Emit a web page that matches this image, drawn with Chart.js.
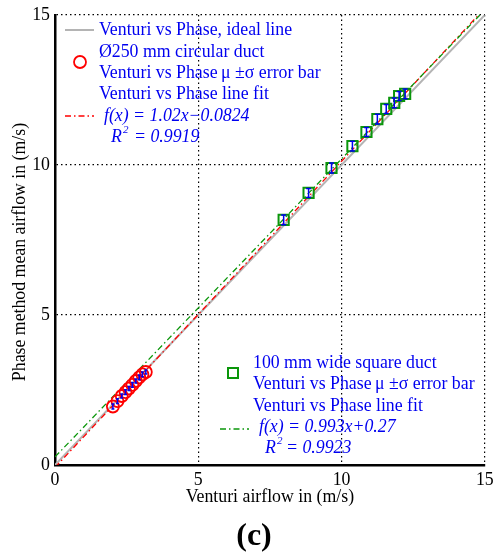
<!DOCTYPE html>
<html>
<head>
<meta charset="utf-8">
<script src="https://cdn.jsdelivr.net/npm/chart.js@4.4.1/dist/chart.umd.min.js"></script>
<style>
  body { margin: 0; background: #fff; }
  #wrap { width: 494px; height: 556px; }
</style>
</head>
<body>
<div id="wrap"><canvas id="container"></canvas></div>
<script>
// Ø250 mm circular duct (venturi vs phase mean, with sigma)
const circleX = [2.02, 2.18, 2.33, 2.46, 2.58, 2.7, 2.82, 2.94, 3.05, 3.17];
const circleY = [1.95, 2.13, 2.3, 2.43, 2.55, 2.67, 2.8, 2.92, 3.02, 3.1];
const circleSigma = [0.08, 0.08, 0.07, 0.08, 0.07, 0.08, 0.07, 0.08, 0.08, 0.07];

// 100 mm wide square duct
const squareX = [7.98, 8.85, 9.65, 10.38, 10.87, 11.25, 11.56, 11.84, 12.01, 12.22];
const squareY = [8.17, 9.07, 9.9, 10.63, 11.1, 11.53, 11.87, 12.07, 12.3, 12.37];
const squareSigma = [0.16, 0.15, 0.17, 0.16, 0.15, 0.16, 0.15, 0.16, 0.15, 0.16];

// lines (end points)
const idealX = [0, 15];
const idealY = [0, 15];
const redFitX = [0, 14.78];
const redFitY = [-0.08, 15];
const greenFitX = [0, 14.83];
const greenFitY = [0.27, 15];

const tickValues = [0, 5, 10, 15];

const serif = "'Liberation Serif', 'Times New Roman', serif";
const fs = 17.8;
const blue = '#0000f0';
const red = '#ff0000';
const green = '#0a960a';

function pts(xs, ys) {
    return xs.map((x, i) => ({ x: x, y: ys[i] }));
}

// error bars + legend text + caption
const extras = {
    id: 'extras',
    afterDatasetsDraw(chart) {
        const { ctx, scales: { x, y } } = chart;
        ctx.save();
        ctx.strokeStyle = blue;
        ctx.lineWidth = 1.5;
        const bars = (xs, ys, sig, cap) => {
            xs.forEach((v, i) => {
                const px = x.getPixelForValue(v);
                const top = y.getPixelForValue(ys[i] + sig[i]);
                const bot = y.getPixelForValue(ys[i] - sig[i]);
                ctx.beginPath();
                ctx.moveTo(px, top); ctx.lineTo(px, bot);
                ctx.moveTo(px - cap, top); ctx.lineTo(px + cap, top);
                ctx.moveTo(px - cap, bot); ctx.lineTo(px + cap, bot);
                ctx.stroke();
            });
        };
        bars(circleX, circleY, circleSigma, 1.5);
        bars(squareX, squareY, squareSigma, 2.5);
        ctx.restore();
    },
    afterDraw(chart) {
        const ctx = chart.ctx;
        ctx.save();
        ctx.textBaseline = 'middle';
        ctx.textAlign = 'left';
        ctx.fillStyle = blue;
        const norm = fs + 'px ' + serif;
        const ital = 'italic ' + fs + 'px ' + serif;
        const sup = 'italic 11px ' + serif;

        // legend 1
        ctx.font = norm;
        ctx.fillText('Venturi vs Phase, ideal line', 99, 30);
        ctx.fillText('Ø250 mm circular duct', 99, 52);
        ctx.fillText('Venturi vs Phase\u2009μ ±σ error bar', 99, 73);
        ctx.fillText('Venturi vs Phase line fit', 99, 94);
        ctx.font = ital;
        ctx.fillText('f(x) = 1.02x\u22120.0824', 104, 116);
        ctx.fillText('R', 111, 137);
        ctx.fillText('= 0.9919', 134, 137);
        ctx.font = sup;
        ctx.fillText('2', 123, 130);

        ctx.strokeStyle = '#b4b4b4';
        ctx.lineWidth = 2;
        ctx.beginPath(); ctx.moveTo(65, 30); ctx.lineTo(94, 30); ctx.stroke();
        ctx.strokeStyle = red;
        ctx.lineWidth = 1.8;
        ctx.beginPath(); ctx.arc(80, 62, 6, 0, Math.PI * 2); ctx.stroke();
        ctx.lineWidth = 1.3;
        ctx.setLineDash([6, 3, 1.5, 3]);
        ctx.beginPath(); ctx.moveTo(65, 116); ctx.lineTo(94, 116); ctx.stroke();

        // legend 2
        ctx.setLineDash([]);
        ctx.font = norm;
        ctx.fillText('100 mm wide square duct', 253, 363);
        ctx.fillText('Venturi vs Phase\u2009μ ±σ error bar', 253, 384);
        ctx.fillText('Venturi vs Phase line fit', 253, 406);
        ctx.font = ital;
        ctx.fillText('f(x) = 0.993x+0.27', 259, 427);
        ctx.fillText('R', 265, 448);
        ctx.fillText('= 0.9923', 286, 448);
        ctx.font = sup;
        ctx.fillText('2', 277, 441);

        ctx.strokeStyle = green;
        ctx.lineWidth = 2;
        ctx.strokeRect(228, 368, 10, 10);
        ctx.lineWidth = 1.3;
        ctx.setLineDash([6, 3, 1.5, 3]);
        ctx.beginPath(); ctx.moveTo(220, 429); ctx.lineTo(249, 429); ctx.stroke();
        ctx.setLineDash([]);

        // y title
        ctx.fillStyle = '#000';
        ctx.font = fs + 'px ' + serif;
        ctx.textAlign = 'center';
        ctx.translate(20, 252);
        ctx.rotate(-Math.PI / 2);
        ctx.fillText('Phase method mean airflow in (m/s)', 0, 0);
        ctx.setTransform(1, 0, 0, 1, 0, 0);

        // caption
        ctx.font = 'bold 32px ' + serif;
        ctx.fillText('(c)', 254, 537);
        ctx.restore();
    }
};

function createChart() {
    const ctx = document.getElementById('container').getContext('2d');
    Chart.defaults.font.family = serif;
    Chart.defaults.color = '#000';

    const gridOpts = { color: '#000', lineWidth: 1.2, drawTicks: false };
    const borderOpts = { display: true, color: '#000', width: 2.5, dash: [1.5, 3] };

    new Chart(ctx, {
        type: 'scatter',
        data: {
            datasets: [
                {
                    label: 'Venturi vs Phase, ideal line',
                    type: 'line',
                    data: pts(idealX, idealY),
                    borderColor: '#b4b4b4',
                    borderWidth: 2,
                    pointRadius: 0,
                    order: 5
                },
                {
                    label: 'circular fit',
                    type: 'line',
                    data: pts(redFitX, redFitY),
                    borderColor: red,
                    borderWidth: 1.3,
                    borderDash: [6, 3, 1.5, 3],
                    pointRadius: 0,
                    order: 4
                },
                {
                    label: 'square fit',
                    type: 'line',
                    data: pts(greenFitX, greenFitY),
                    borderColor: green,
                    borderWidth: 1.3,
                    borderDash: [6, 3, 1.5, 3],
                    pointRadius: 0,
                    order: 3
                },
                {
                    label: 'Ø250 mm circular duct',
                    data: pts(circleX, circleY),
                    pointStyle: 'circle',
                    pointRadius: 6,
                    borderColor: red,
                    backgroundColor: 'rgba(0,0,0,0)',
                    borderWidth: 1.8,
                    order: 2
                },
                {
                    label: '100 mm wide square duct',
                    data: pts(squareX, squareY),
                    pointStyle: 'rect',
                    pointRadius: 7.2,
                    borderColor: green,
                    backgroundColor: 'rgba(0,0,0,0)',
                    borderWidth: 2,
                    order: 1
                }
            ]
        },
        options: {
            responsive: true,
            maintainAspectRatio: false,
            animation: false,
            events: [],
            layout: { padding: { top: 15, right: 0, left: 0, bottom: 0 } },
            plugins: {
                legend: { display: false },
                tooltip: { enabled: false }
            },
            scales: {
                x: {
                    type: 'linear',
                    min: 0,
                    max: 15,
                    afterFit: s => {
                        s.height = 91;
                        s.paddingLeft = 0;
                        s.paddingRight = 5;
                    },
                    afterBuildTicks: s => { s.ticks = tickValues.map(v => ({ value: v })); },
                    grid: gridOpts,
                    border: borderOpts,
                    ticks: { font: { size: fs }, padding: 5, maxRotation: 0 },
                    title: {
                        display: true,
                        text: 'Venturi airflow in (m/s)',
                        font: { size: fs },
                        padding: { top: 0, bottom: 48 }
                    }
                },
                y: {
                    type: 'linear',
                    min: 0,
                    max: 15,
                    afterFit: s => {
                        s.width = 55;
                        s.paddingTop = 0;
                        s.paddingBottom = 0;
                    },
                    afterBuildTicks: s => { s.ticks = tickValues.map(v => ({ value: v })); },
                    grid: gridOpts,
                    border: borderOpts,
                    ticks: { font: { size: fs }, padding: 5 }
                }
            }
        },
        plugins: [extras]
    });
}

createChart();
</script>
</body>
</html>
